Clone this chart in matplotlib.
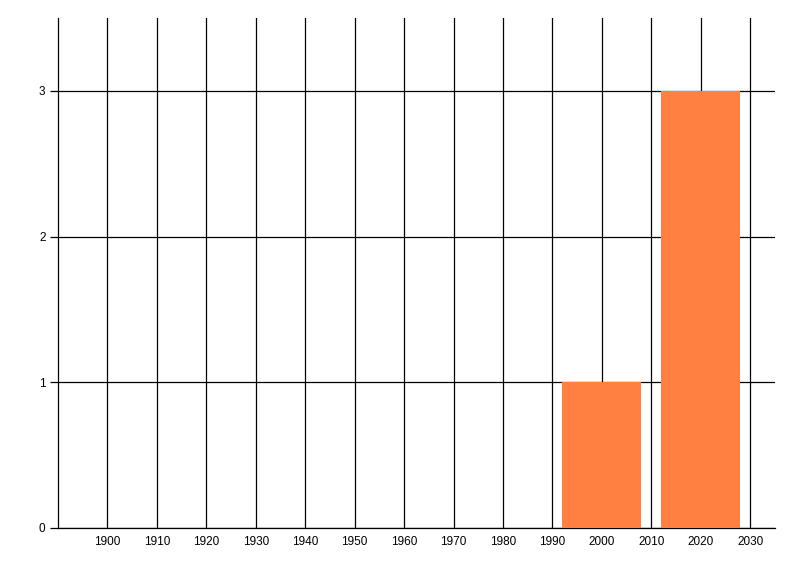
import matplotlib
matplotlib.use("Agg")
import matplotlib.pyplot as plt

# data
years = [2000, 2020]
counts = [1, 3]
bar_width = 16
x_ticks = list(range(1900, 2031, 10))
y_ticks = [0, 1, 2, 3]

plt.rcParams['font.family'] = ['Liberation Sans', 'DejaVu Sans']

fig = plt.figure(figsize=(8, 5.76), dpi=100)
ax = fig.add_axes([58 / 800, 48 / 576, 717 / 800, 510 / 576])

ax.bar(years, counts, width=bar_width, color='#ff8040', zorder=3)

ax.set_xlim(1890, 2035)
ax.set_ylim(0, 3.5)
ax.set_xticks(x_ticks)
ax.set_yticks(y_ticks)

ax.grid(True, color='black', linewidth=0.9, zorder=0)
ax.set_axisbelow(True)

for s in ['top', 'right']:
    ax.spines[s].set_visible(False)
for s in ['left', 'bottom']:
    ax.spines[s].set_linewidth(0.9)
    ax.spines[s].set_color('black')

ax.tick_params(axis='x', length=0, pad=6, labelsize=8.5)
ax.tick_params(axis='y', length=6, width=0.9, pad=3, labelsize=8.5)

fig.savefig('out.png', dpi=100)
